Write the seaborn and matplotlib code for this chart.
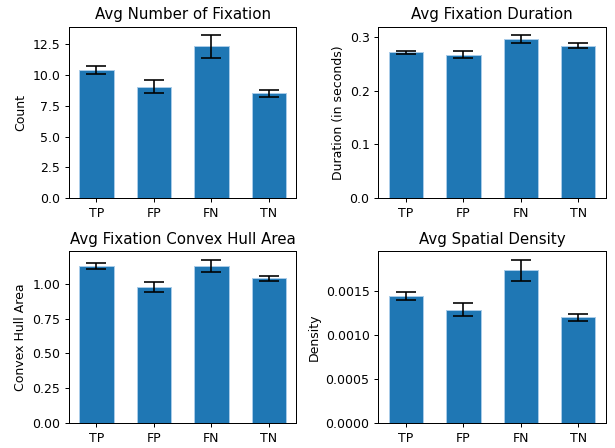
import matplotlib
matplotlib.use('Agg')
import matplotlib.pyplot as plt
import seaborn as sns
import pandas as pd

categorias = ['TP', 'FP', 'FN', 'TN']

num_fixation = [10.38, 9.04, 12.31, 8.50]
num_fixation_err = [0.35, 0.51, 0.91, 0.28]

fix_duration = [0.271, 0.2667, 0.2957, 0.2833]
fix_duration_err = [0.003, 0.006, 0.0075, 0.0045]

hull_area = [1.126, 0.976, 1.129, 1.038]
hull_area_err = [0.02, 0.035, 0.044, 0.02]

spatial_density = [0.00144, 0.001281, 0.00173, 0.001195]
spatial_density_err = [0.000042, 0.000072, 0.00012, 0.000038]

paneles = [
    ('Avg Number of Fixation', 'Count', num_fixation, num_fixation_err),
    ('Avg Fixation Duration', 'Duration (in seconds)', fix_duration, fix_duration_err),
    ('Avg Fixation Convex Hull Area', 'Convex Hull Area', hull_area, hull_area_err),
    ('Avg Spatial Density', 'Density', spatial_density, spatial_density_err),
]

DPI = 90
fig, axes = plt.subplots(2, 2, figsize=(615 / DPI, 448 / DPI), dpi=DPI)
fig.subplots_adjust(left=0.112, right=0.985, top=0.940, bottom=0.056,
                    wspace=0.36, hspace=0.31)

for ax, (titulo, ylabel, valores, errores) in zip(axes.flat, paneles):
    df = pd.DataFrame({'cat': categorias, 'val': valores, 'err': errores})
    sns.barplot(data=df, x='cat', y='val', color='#1f77b4', saturation=1,
                width=0.6, errorbar=None, edgecolor='#a8cbe8', linewidth=0.8, ax=ax)
    ax.errorbar(range(len(categorias)), df['val'], yerr=df['err'], fmt='none',
                ecolor='black', capsize=8, elinewidth=1.3, capthick=1.3)
    ax.set_title(titulo)
    ax.set_ylabel(ylabel)
    ax.set_xlabel('')

fig.savefig('out.png', dpi=DPI)
plt.close()
